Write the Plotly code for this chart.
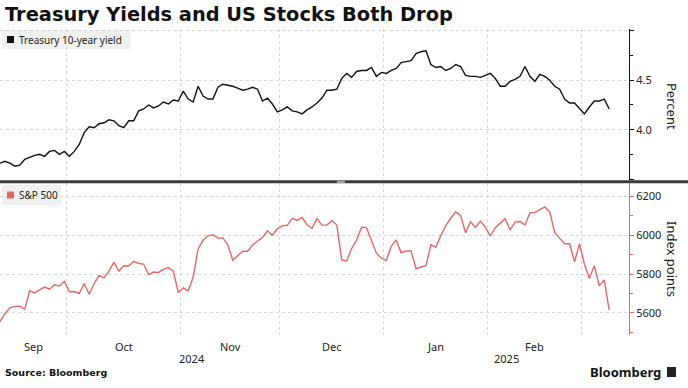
import pandas as pd
import plotly.graph_objects as go

# ---------------- data ----------------
holidays = ["2024-11-28", "2024-12-25", "2025-01-01", "2025-01-20", "2025-02-17"]
dates = [d for d in pd.bdate_range("2024-09-11", "2025-03-10")
         if d.strftime("%Y-%m-%d") not in holidays]

treasury_10y = [
    3.66, 3.68, 3.66, 3.63, 3.64, 3.70, 3.72, 3.74, 3.75, 3.73, 3.78, 3.79, 3.75, 3.78,   # Sep
    3.73, 3.78, 3.85, 3.97, 4.03, 4.02, 4.06, 4.07, 4.10, 4.09, 4.04, 4.02, 4.09, 4.09,
    4.19, 4.21, 4.25, 4.22, 4.24, 4.28, 4.26, 4.30, 4.29,                                 # Oct
    4.39, 4.31, 4.28, 4.44, 4.34, 4.31, 4.31, 4.43, 4.46, 4.45, 4.44, 4.42, 4.40, 4.41,
    4.43, 4.41, 4.29, 4.32, 4.26, 4.18,                                                   # Nov
    4.20, 4.23, 4.19, 4.18, 4.16, 4.20, 4.23, 4.27, 4.32, 4.40, 4.40, 4.41, 4.52, 4.57,
    4.53, 4.59, 4.60, 4.60, 4.63, 4.54, 4.58,                                             # Dec
    4.57, 4.60, 4.62, 4.68, 4.69, 4.70, 4.77, 4.79, 4.80, 4.66, 4.63, 4.64, 4.60, 4.62,
    4.66, 4.64, 4.55, 4.54, 4.54, 4.53, 4.55,                                             # Jan
    4.57, 4.52, 4.44, 4.44, 4.49, 4.51, 4.54, 4.64, 4.54, 4.49, 4.56, 4.54, 4.50, 4.44,
    4.41, 4.31, 4.27, 4.27, 4.21,                                                         # Feb
    4.16, 4.23, 4.29, 4.29, 4.31, 4.21,                                                   # Mar
]

sp500 = [
    5554, 5596, 5626, 5633, 5635, 5618, 5714, 5703, 5719, 5733, 5722, 5745, 5738, 5762,   # Sep
    5709, 5710, 5700, 5751, 5696, 5751, 5792, 5780, 5815, 5860, 5815, 5842, 5841, 5865,
    5854, 5851, 5797, 5810, 5808, 5824, 5833, 5814, 5705,                                 # Oct
    5729, 5713, 5783, 5929, 5973, 5996, 6001, 5984, 5985, 5949, 5871, 5894, 5917, 5917,
    5949, 5969, 5987, 6022, 5999, 6032,                                                   # Nov
    6047, 6050, 6086, 6075, 6090, 6053, 6035, 6084, 6051, 6051, 6074, 6051, 5872, 5867,
    5931, 5974, 6040, 6038, 5971, 5907, 5882,                                             # Dec
    5869, 5942, 5975, 5909, 5918, 5918, 5827, 5836, 5843, 5950, 5937, 5997, 6049, 6086,
    6119, 6101, 6012, 6068, 6039, 6071, 6041,                                             # Jan
    5995, 6038, 6061, 6084, 6026, 6066, 6069, 6052, 6115, 6115, 6130, 6144, 6118, 6013,
    5983, 5955, 5956, 5862, 5955,                                                         # Feb
    5850, 5778, 5843, 5739, 5770, 5615,                                                   # Mar
]

month_names = ["Sep", "Oct", "Nov", "Dec", "Jan", "Feb", "Mar"]
years = ["2024", "2025"]

# ---------------- derived positions ----------------
x = list(range(len(dates)))
date_txt = [d.strftime("%b %d, %Y") for d in dates]
X_MAX = 127

month_keys = []
for i, d in enumerate(dates):
    k = (d.year, d.month)
    if not month_keys or month_keys[-1][0] != k:
        month_keys.append((k, i))
bounds = [i - 0.5 for (_, i) in month_keys[1:]]  # gridlines at month boundaries
seg_edges = [0] + bounds + [X_MAX]

RED = "#e46767"
GRID = "#d6d6d6"
TXT = "#222222"
FONT = "Noto Sans"

fig = go.Figure()
fig.add_trace(go.Scatter(x=x, y=treasury_10y, mode="lines", name="Treasury 10-year yield",
                         line=dict(color="#111111", width=1.4), customdata=date_txt,
                         hovertemplate="%{customdata}: %{y:.2f}%<extra></extra>",
                         xaxis="x2", yaxis="y2"))
fig.add_trace(go.Scatter(x=x, y=sp500, mode="lines", name="S&P 500",
                         line=dict(color=RED, width=1.4), customdata=date_txt,
                         hovertemplate="%{customdata}: %{y:,.0f}<extra></extra>",
                         xaxis="x", yaxis="y"))

W, H = 688, 388
ML, MR, MT, MB = 0, 59, 29, 53
PW, PH = W - ML - MR, H - MT - MB


def px(xp):
    return (xp - ML) / PW


def py(yp):
    return (H - MB - yp) / PH


xcommon = dict(range=[0, X_MAX], tickmode="array", tickvals=bounds, showticklabels=False,
               showgrid=True, gridcolor=GRID, griddash="dot", gridwidth=1,
               zeroline=False, ticks="", showline=False, fixedrange=True)

fig.update_layout(
    width=W, height=H, margin=dict(l=ML, r=MR, t=MT, b=MB),
    paper_bgcolor="white", plot_bgcolor="white", showlegend=False,
    font=dict(family=FONT, size=11, color=TXT),
    xaxis=dict(domain=[0, 1], anchor="y", **xcommon),
    xaxis2=dict(domain=[0, 1], anchor="y2", matches="x", **xcommon),
    yaxis=dict(domain=[0, py(183)], anchor="x", side="right", range=[5487, 6267],
               tickmode="array", tickvals=[5600, 5800, 6000, 6200],
               ticktext=["5600", "5800", "6000", "6200"],
               showgrid=True, gridcolor=GRID, griddash="dot", zeroline=False,
               showline=True, linecolor=RED, linewidth=1, ticks="outside", ticklen=4,
               tickcolor=RED, tickfont=dict(size=11, color=TXT),
               minor=dict(tickmode="array", tickvals=[5500, 5700, 5900, 6100],
                          ticks="outside", ticklen=3, tickcolor=RED, showgrid=False),
               fixedrange=True),
    yaxis2=dict(domain=[py(180), 1], anchor="x2", side="right", range=[3.49, 5.02],
                tickmode="array", tickvals=[3.5, 4.0, 4.5, 5.0],
                ticktext=["", "4.0", "4.5", ""],
                showgrid=True, gridcolor=GRID, griddash="dot", zeroline=False,
                showline=True, linecolor="#111111", linewidth=1, ticks="outside", ticklen=4,
                tickcolor="#111111", tickfont=dict(size=11, color=TXT),
                minor=dict(tickmode="array", tickvals=[3.75, 4.25, 4.75],
                           ticks="outside", ticklen=3, tickcolor="#111111", showgrid=False),
                fixedrange=True),
)

shapes = []
annotations = []

# separator between panels
shapes.append(dict(type="line", xref="paper", yref="paper", x0=px(0), x1=px(W),
                   y0=py(181.8), y1=py(181.8), line=dict(color="#3c3c3c", width=3)))
shapes.append(dict(type="rect", xref="paper", yref="paper", x0=px(337), x1=px(345),
                   y0=py(183), y1=py(180.6), fillcolor="#a0a0a0", line=dict(width=0)))

# legend boxes
shapes.append(dict(type="rect", xref="paper", yref="paper", x0=px(2), x1=px(131),
                   y0=py(49), y1=py(30), fillcolor="#f0f0f0", line=dict(width=0), layer="below"))
shapes.append(dict(type="rect", xref="paper", yref="paper", x0=px(7), x1=px(14),
                   y0=py(43), y1=py(36), fillcolor="#111111", line=dict(width=0)))
annotations.append(dict(text="Treasury 10-year yield", xref="paper", yref="paper",
                        x=px(17), y=py(39.5), xanchor="left", yanchor="middle", showarrow=False,
                        font=dict(size=10, color=TXT)))
shapes.append(dict(type="rect", xref="paper", yref="paper", x0=px(2), x1=px(61),
                   y0=py(205), y1=py(185), fillcolor="#f0f0f0", line=dict(width=0), layer="below"))
shapes.append(dict(type="rect", xref="paper", yref="paper", x0=px(7), x1=px(14),
                   y0=py(198.5), y1=py(191.5), fillcolor=RED, line=dict(width=0)))
annotations.append(dict(text="S&P 500", xref="paper", yref="paper",
                        x=px(17), y=py(195), xanchor="left", yanchor="middle", showarrow=False,
                        font=dict(size=10, color=TXT)))

# month labels centred in each visible month segment
for j, ((yr, mo), _) in enumerate(month_keys):
    a, b = seg_edges[j], seg_edges[j + 1]
    if b - a < 12:
        continue
    annotations.append(dict(text=month_names[j], xref="x", yref="paper", x=(a + b) / 2,
                            y=py(346), xanchor="center", yanchor="middle", showarrow=False,
                            font=dict(size=11, color=TXT)))
# year labels centred in each visible year segment
year_start = bounds[[k for (k, _) in month_keys[1:]].index((2025, 1))]
for label, (a, b) in zip(years, [(0, year_start), (year_start, X_MAX)]):
    annotations.append(dict(text=label, xref="x", yref="paper", x=(a + b) / 2,
                            y=py(358), xanchor="center", yanchor="middle", showarrow=False,
                            font=dict(size=11, color=TXT)))

# axis titles
annotations.append(dict(text="Percent", xref="paper", yref="paper", x=px(672), y=py(106),
                        textangle=90, showarrow=False, xanchor="center", yanchor="middle",
                        font=dict(size=13, color=TXT)))
annotations.append(dict(text="Index points", xref="paper", yref="paper", x=px(672), y=py(259),
                        textangle=90, showarrow=False, xanchor="center", yanchor="middle",
                        font=dict(size=13, color=TXT)))

# title
annotations.append(dict(text="<b>Treasury Yields and US Stocks Both Drop</b>", xref="paper",
                        yref="paper", x=px(3), y=py(15), xanchor="left", yanchor="middle",
                        showarrow=False, font=dict(family="DejaVu Sans", size=19.4, color="#111111")))
# footer
annotations.append(dict(text="<b>Source: Bloomberg</b>", xref="paper", yref="paper",
                        x=px(3), y=py(372), xanchor="left", yanchor="middle", showarrow=False,
                        font=dict(family="DejaVu Sans", size=9.5, color="#111111")))
annotations.append(dict(text="<b>Bloomberg</b>", xref="paper", yref="paper",
                        x=px(663), y=py(372), xanchor="right", yanchor="middle", showarrow=False,
                        font=dict(family=FONT, size=13, color="#111111")))
shapes.append(dict(type="rect", xref="paper", yref="paper", x0=px(667), x1=px(676),
                   y0=py(377), y1=py(367), fillcolor="#222222", line=dict(width=0)))

fig.update_layout(shapes=shapes, annotations=annotations)
fig.write_html("out.html", config={"displayModeBar": False},
               post_script="document.body.style.margin='0';document.body.style.overflow='hidden';")
